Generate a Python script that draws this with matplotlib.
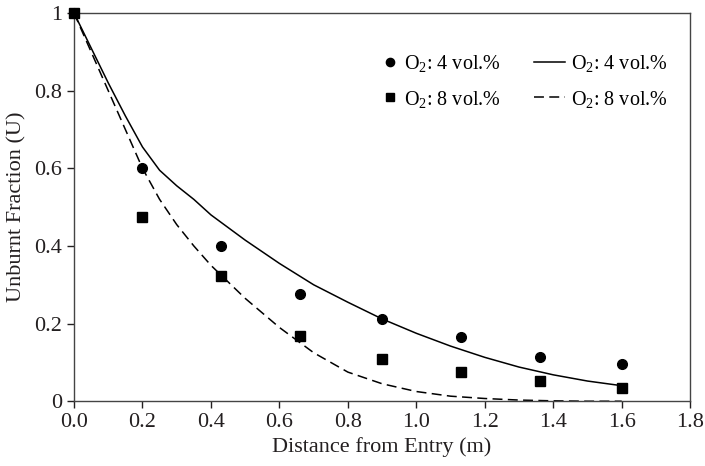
import matplotlib
matplotlib.use("Agg")
from matplotlib import pyplot as plt

matplotlib.rc("font", family="Liberation Serif", size=16)
matplotlib.rc("mathtext", fontset="custom", rm="Liberation Serif", it="Liberation Serif:italic")

# measured points
x_meas = [0.0, 0.2, 0.43, 0.66, 0.9, 1.13, 1.36, 1.6]
u_4 = [1.0, 0.6, 0.4, 0.275, 0.213, 0.165, 0.115, 0.097]
u_8 = [1.0, 0.475, 0.323, 0.167, 0.108, 0.076, 0.051, 0.033]

# model curves
x_model = [0.0, 0.05, 0.1, 0.15, 0.2, 0.25, 0.3, 0.35, 0.4, 0.5, 0.6, 0.7,
           0.8, 0.9, 1.0, 1.1, 1.2, 1.3, 1.4, 1.5, 1.6]
model_4 = [1.0, 0.91, 0.82, 0.735, 0.655, 0.595, 0.555, 0.52, 0.48, 0.415,
           0.355, 0.3, 0.255, 0.212, 0.175, 0.142, 0.113, 0.088, 0.068, 0.052, 0.04]
model_8 = [1.0, 0.9, 0.8, 0.7, 0.6, 0.52, 0.455, 0.4, 0.35, 0.265, 0.19,
           0.125, 0.075, 0.045, 0.025, 0.013, 0.007, 0.003, 0.001, 0.0, 0.0]

label_4 = "O$_2$: 4 vol.%"
label_8 = "O$_2$: 8 vol.%"
ink = "#231f20"

fig = plt.figure(figsize=(7.05, 4.66), dpi=100)
ax = fig.add_axes([0.105, 0.139, 0.874, 0.833])

h1, = ax.plot(x_meas, u_4, "o", color="black", markersize=7, linestyle="none",
              label=label_4, clip_on=False, zorder=3)
h2, = ax.plot(x_meas, u_8, "s", color="black", markersize=6.6, linestyle="none",
              label=label_8, clip_on=False, zorder=3)
h3, = ax.plot(x_model, model_4, "-", color="black", linewidth=1.1, label=label_4)
h4, = ax.plot(x_model, model_8, "--", color="black", linewidth=1.1, dashes=(6.5, 3.5), label=label_8)

ax.set_xlim(0, 1.8)
ax.set_ylim(0, 1)
ax.set_xticks([0.0, 0.2, 0.4, 0.6, 0.8, 1.0, 1.2, 1.4, 1.6, 1.8])
ax.set_xticklabels(["0.0", "0.2", "0.4", "0.6", "0.8", "1.0", "1.2", "1.4", "1.6", "1.8"])
ax.set_yticks([0, 0.2, 0.4, 0.6, 0.8, 1])
ax.set_yticklabels(["0", "0.2", "0.4", "0.6", "0.8", "1"])
ax.tick_params(direction="out", length=5, width=1, colors=ink, labelsize=16)
for s in ax.spines.values():
    s.set_color("#444444")
    s.set_linewidth(1.0)

ax.set_xlabel("Distance from Entry (m)", color=ink, labelpad=4)
ax.set_ylabel("Unburnt Fraction (U)", color=ink, labelpad=6)

leg1 = ax.legend(handles=[h1, h2], frameon=False, loc="upper left", fontsize=14.5,
                 bbox_to_anchor=(0.505, 0.896), handlelength=0.5, handletextpad=0.45,
                 labelspacing=0.7, markerscale=0.85, borderaxespad=0, borderpad=0)
ax.add_artist(leg1)
ax.legend(handles=[h3, h4], frameon=False, loc="upper right", fontsize=14.5,
          bbox_to_anchor=(0.963, 0.896), handlelength=1.5, handletextpad=0.3,
          labelspacing=0.7, borderaxespad=0, borderpad=0)

plt.savefig("out.png", dpi=100)
